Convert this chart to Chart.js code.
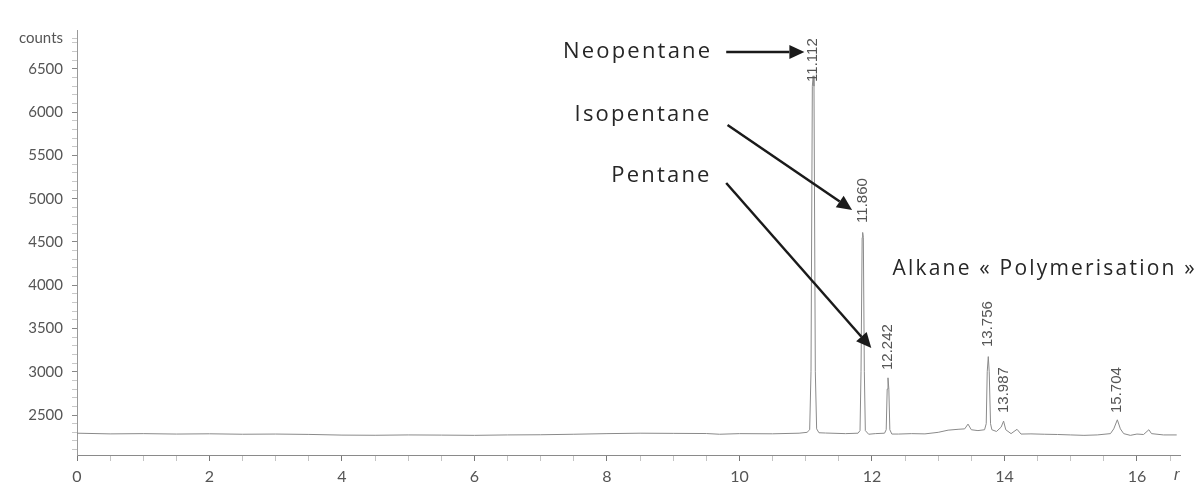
<!DOCTYPE html>
<html lang="en">
<head>
  <meta charset="UTF-8" />
  <title>Chromatogram – pentane isomers</title>
  <script src="https://cdn.jsdelivr.net/npm/chart.js"></script>
  <style>
    body {
      margin: 0;
      background: #fff;
    }
    canvas {
      display: block;
    }
  </style>
</head>
<body>
  <canvas id="gc" width="1204" height="490"></canvas>

  <script>
    // retention time (min) and detector counts
    const times = [
      0.0, 0.5, 1.0, 1.5, 2.0, 2.5, 3.0, 3.5, 4.0, 4.5, 5.0, 5.5, 6.0, 6.5, 7.0, 7.5,
      8.0, 8.5, 9.0, 9.5, 9.7, 10.0, 10.5, 10.9,
      11.02, 11.06, 11.08, 11.10, 11.112, 11.125, 11.145, 11.165, 11.2, 11.3, 11.6,
      11.79, 11.82, 11.835, 11.852, 11.86, 11.87, 11.885, 11.9, 11.95, 12.05,
      12.19, 12.215, 12.23, 12.242, 12.255, 12.27, 12.3, 12.4, 12.6, 12.8,
      13.0, 13.15, 13.3, 13.4, 13.45, 13.5, 13.6, 13.7,
      13.725, 13.74, 13.756, 13.77, 13.79, 13.81, 13.88, 13.95, 13.987, 14.02,
      14.1, 14.19, 14.25, 14.4, 14.6, 14.8, 15.0, 15.2, 15.4, 15.6,
      15.65, 15.704, 15.75, 15.8, 15.9, 16.0, 16.1, 16.18, 16.22, 16.4, 16.6
    ];
    const counts = [
      2290, 2282, 2285, 2280, 2283, 2278, 2280, 2276, 2268, 2266, 2270, 2268, 2265, 2270, 2272, 2278,
      2285, 2290, 2288, 2286, 2278, 2285, 2283, 2290,
      2300, 2330, 3000, 6300, 6420, 6300, 3000, 2340, 2295, 2292, 2285,
      2290, 2320, 3000, 4550, 4610, 4550, 3000, 2320, 2278, 2285,
      2290, 2330, 2800, 2930, 2800, 2330, 2280, 2280, 2285, 2282,
      2300, 2325, 2335, 2340, 2395, 2330, 2320, 2330,
      2400, 3000, 3175, 3000, 2400, 2330, 2310, 2360, 2430, 2330,
      2285, 2335, 2280, 2282, 2278, 2275, 2270, 2265, 2270, 2285,
      2340, 2445, 2340, 2285, 2265, 2280, 2275, 2330, 2285, 2270, 2270
    ];

    const yTickLabels = [2500, 3000, 3500, 4000, 4500, 5000, 5500, 6000, 6500];
    const xTickLabels = [0, 2, 4, 6, 8, 10, 12, 14, 16];

    // retention time printed above each peak
    const peakNames = ['11.112', '11.860', '12.242', '13.756', '13.987', '15.704'];
    const peakNameX = [11.112, 11.86, 12.242, 13.756, 13.987, 15.704];
    const peakNameY = [6350, 4720, 3020, 3286, 2523, 2523];

    // compound names and their arrows
    const compounds = ['Neopentane', 'Isopentane', 'Pentane'];
    const compoundX = [9.59, 9.58, 9.58];
    const compoundY = [6697, 5968, 5263];
    const arrowFromX = [9.80, 9.82, 9.80];
    const arrowFromY = [6697, 5853, 5182];
    const arrowToX = [10.98, 11.70, 11.99];
    const arrowToY = [6697, 4870, 3275];

    const groupLabel = 'Alkane « Polymerisation »';
    const groupX = 12.31;
    const groupY = 4188;

    const annotations = {
      id: 'annotations',
      afterDatasetsDraw(chart) {
        const c = chart.ctx;
        const xs = chart.scales.x, ys = chart.scales.y;
        c.save();

        // peak retention times, rotated
        c.fillStyle = '#555';
        c.font = '15px "Liberation Sans", Arial, sans-serif';
        c.textAlign = 'left';
        c.textBaseline = 'middle';
        peakNames.forEach((t, i) => {
          c.save();
          c.translate(xs.getPixelForValue(peakNameX[i]), ys.getPixelForValue(peakNameY[i]));
          c.rotate(-Math.PI / 2);
          c.fillText(t, 0, 0);
          c.restore();
        });

        // compound names
        c.fillStyle = '#262626';
        c.font = '22px "Open Sans", sans-serif';
        c.letterSpacing = '2.2px';
        c.textAlign = 'right';
        compounds.forEach((t, i) => {
          c.fillText(t, xs.getPixelForValue(compoundX[i]), ys.getPixelForValue(compoundY[i]));
        });
        c.font = '21px "Open Sans", sans-serif';
        c.textAlign = 'left';
        c.fillText(groupLabel, xs.getPixelForValue(groupX), ys.getPixelForValue(groupY));
        c.letterSpacing = '0px';

        // arrows
        c.strokeStyle = '#1a1a1a';
        c.fillStyle = '#1a1a1a';
        c.lineWidth = 2.5;
        arrowFromX.forEach((_, i) => {
          const x1 = xs.getPixelForValue(arrowFromX[i]), y1 = ys.getPixelForValue(arrowFromY[i]);
          const x2 = xs.getPixelForValue(arrowToX[i]), y2 = ys.getPixelForValue(arrowToY[i]);
          const a = Math.atan2(y2 - y1, x2 - x1);
          const head = 15, half = 7;
          const bx = x2 - head * Math.cos(a), by = y2 - head * Math.sin(a);
          c.beginPath();
          c.moveTo(x1, y1);
          c.lineTo(bx, by);
          c.stroke();
          c.beginPath();
          c.moveTo(x2, y2);
          c.lineTo(bx + half * Math.sin(a), by - half * Math.cos(a));
          c.lineTo(bx - half * Math.sin(a), by + half * Math.cos(a));
          c.closePath();
          c.fill();
        });

        // cut-off axis unit at the right end
        c.fillStyle = '#555';
        c.font = 'italic 16px "Liberation Sans", Arial, sans-serif';
        c.textAlign = 'center';
        c.textBaseline = 'top';
        c.fillText('r', xs.getPixelForValue(16.6), xs.bottom - 22);
        c.restore();
      }
    };

    const tickFont = { family: 'Lato, "DejaVu Sans", sans-serif', size: 15 };

    new Chart(document.getElementById('gc'), {
      type: 'line',
      data: {
        datasets: [{
          data: times.map((t, i) => ({ x: t, y: counts[i] })),
          borderColor: '#8a8a8a',
          borderWidth: 1,
          pointRadius: 0,
          tension: 0
        }]
      },
      options: {
        responsive: false,
        animation: false,
        layout: { padding: { top: 30, right: 24, bottom: 0, left: 0 } },
        plugins: {
          legend: { display: false },
          tooltip: { enabled: false }
        },
        scales: {
          x: {
            type: 'linear',
            min: 0,
            max: 16.65,
            afterFit: s => { s.height = 35; },
            afterBuildTicks: s => {
              const t = [];
              for (let v = 0; v <= 16.5; v += 0.5) t.push({ value: v });
              s.ticks = t;
            },
            border: { color: '#8a8a8a', width: 1 },
            grid: {
              drawOnChartArea: false,
              tickLength: 6,
              tickColor: ctx => xTickLabels.includes(ctx.tick.value) ? '#777' : '#c4c4c4'
            },
            ticks: {
              color: '#555',
              font: { family: 'Lato, "DejaVu Sans", sans-serif', size: 16 },
              padding: 6,
              maxRotation: 0,
              autoSkip: false,
              callback: v => xTickLabels.includes(v) ? String(v) : ''
            }
          },
          y: {
            min: 2038,
            max: 6950,
            afterFit: s => { s.width = 77; },
            afterBuildTicks: s => {
              const t = [];
              for (let v = 2100; v <= 6800; v += 100) t.push({ value: v });
              t.push({ value: 6850 });
              s.ticks = t;
            },
            border: { color: '#9a9a9a', width: 1 },
            grid: {
              drawOnChartArea: false,
              tickLength: 5,
              tickColor: ctx => yTickLabels.includes(ctx.tick.value) ? '#888' : '#c8c8c8'
            },
            ticks: {
              color: '#555',
              padding: 9,
              autoSkip: false,
              font: ctx => ctx.tick && ctx.tick.value === 6850
                ? { family: 'Lato, "DejaVu Sans", sans-serif', size: 15 }
                : tickFont,
              callback: v => v === 6850 ? 'counts' : (yTickLabels.includes(v) ? String(v) : '')
            }
          }
        }
      },
      plugins: [annotations]
    });
  </script>
</body>
</html>
